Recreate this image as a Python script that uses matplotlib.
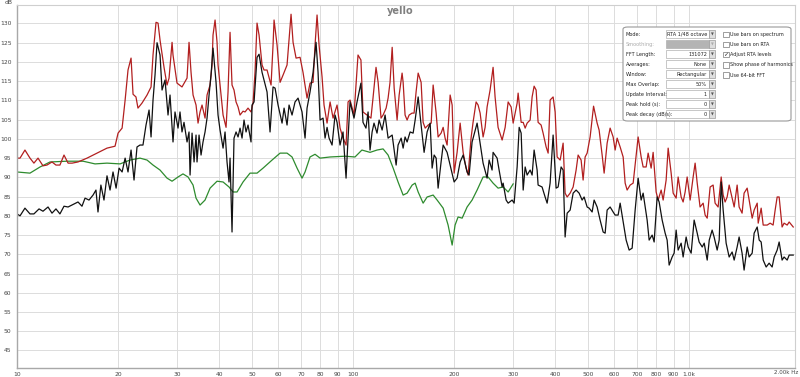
import matplotlib
matplotlib.use("Agg")
import matplotlib.pyplot as plt
from matplotlib.patches import FancyBboxPatch, Rectangle

# ---- data ----
black_f = [10.0, 10.21, 10.56, 10.93, 11.23, 11.63, 11.95, 12.37, 12.71, 13.06, 13.42, 13.8, 14.19,
           15.19, 15.61, 15.94, 16.38, 16.84, 17.18, 17.42, 17.77, 18.15, 18.53, 18.92, 19.31, 19.72,
           20.13, 20.55, 20.98, 21.4, 21.85, 22.3, 22.76, 23.23, 23.71, 24.21, 24.72, 25.06, 25.4,
           25.75, 26.11, 26.65, 27.02, 27.58, 28.15, 28.54, 29.13, 29.53, 30.15, 30.56, 30.98, 31.41,
           32.07, 32.51, 32.74, 33.19, 33.65, 34.11, 34.34, 34.82, 35.3, 35.78, 36.28, 36.78, 37.29,
           37.8, 38.32, 39.12, 39.66, 40.21, 41.05, 41.61, 42.18, 42.76, 43.06, 43.65, 44.25, 44.87,
           45.49, 46.12, 46.75, 47.39, 48.05, 48.71, 49.72, 50.06, 50.76, 51.81, 52.53, 53.62, 54.36,
           55.49, 56.64, 57.82, 58.62, 59.84, 61.5, 62.36, 63.64, 64.52, 65.86, 67.22, 68.63, 70.53,
           72.0, 72.99, 74.5, 76.06, 77.63, 78.71, 79.8, 81.45, 82.58, 83.72, 84.88, 86.64, 88.43,
           89.66, 91.5, 93.4, 95.36, 96.68, 98.0, 100.7, 102.8, 105.6, 107.1, 109.3, 110.9, 112.4,
           114.0, 115.5, 117.9, 119.6, 122.1, 124.6, 127.2, 130.8, 134.4, 136.2, 139.1, 141.0, 142.9,
           144.9, 147.9, 151.0, 153.1, 156.3, 159.5, 162.8, 166.2, 169.7, 172.0, 174.4, 176.8, 179.2,
           182.9, 185.5, 190.6, 194.6, 200.0, 204.1, 208.4, 212.7, 218.6, 221.6, 226.2, 234.1, 243.9,
           250.7, 254.2, 259.4, 261.2, 268.5, 272.2, 277.9, 279.8, 285.6, 289.6, 297.6, 301.7, 308.0,
           312.3, 316.6, 321.0, 325.4, 329.8, 336.7, 341.3, 346.0, 353.2, 355.6, 365.4, 373.1, 378.3,
           386.1, 394.1, 402.3, 407.9, 416.3, 422.1, 427.9, 433.9, 442.9, 452.1, 461.4, 471.0, 480.8,
           487.4, 497.6, 504.5, 514.9, 522.0, 532.9, 543.9, 555.3, 563.0, 570.7, 582.5, 594.7, 602.9,
           615.4, 623.9, 636.9, 650.1, 663.6, 677.4, 691.5, 705.8, 720.5, 730.4, 750.7, 761.1, 777.0,
           787.6, 804.0, 815.1, 832.1, 849.3, 861.0, 872.9, 891.0, 903.3, 915.8, 928.4, 947.7, 960.7,
           980.7, 994.3, 1015, 1036, 1058, 1072, 1095, 1110, 1133, 1149, 1172, 1188, 1213, 1230, 1247,
           1264, 1290, 1317, 1344, 1363, 1391, 1410, 1439, 1459, 1490, 1510, 1542, 1563, 1596, 1618,
           1640, 1663, 1697, 1732, 1768, 1793, 1830, 1855, 1893, 1919, 1960, 1987, 2043]
black_db = [80.5, 80.0, 82.0, 80.5, 80.5, 81.8, 81.2, 82.3, 80.7, 81.8, 80.5, 82.5, 82.3,
            83.6, 82.5, 84.6, 84.1, 85.4, 86.7, 81.0, 88.0, 84.1, 90.4, 86.7, 91.4, 87.2,
            92.4, 91.4, 95.0, 91.4, 97.1, 89.3, 97.9, 98.4, 98.4, 103.6, 107.5, 100.5, 110.1,
            116.6, 125.0, 121.8, 112.7, 115.3, 106.2, 111.4, 99.2, 107.0, 102.8, 107.0, 101.8, 104.3,
            99.2, 101.8, 90.6, 101.5, 94.0, 101.0, 94.0, 101.0, 95.8, 99.2, 101.8, 105.4, 111.4,
            116.6, 123.6, 114.7, 106.2, 102.3, 97.6, 101.8, 94.0, 88.8, 95.0, 75.8, 100.2, 101.8,
            100.5, 102.8, 100.2, 104.9, 101.8, 103.6, 99.2, 108.8, 109.6, 121.2, 122.0, 117.3, 115.3,
            112.2, 101.8, 113.5, 113.2, 108.8, 104.1, 108.0, 103.6, 108.8, 106.2, 109.6, 110.6, 107.0,
            100.2, 108.0, 112.2, 117.3, 125.1, 117.3, 104.9, 105.4, 100.2, 103.0, 100.2, 98.4, 106.2,
            104.3, 98.4, 101.8, 89.8, 100.2, 109.6, 105.4, 109.6, 114.5, 104.3, 102.8, 107.0, 97.1,
            101.8, 104.1, 101.5, 104.9, 102.3, 106.2, 100.2, 101.0, 93.2, 98.4, 100.2, 97.6, 100.5,
            99.2, 101.8, 101.5, 104.9, 110.9, 103.6, 96.5, 101.8, 104.1, 92.4, 95.8, 95.0, 87.2,
            94.0, 98.4, 96.5, 93.2, 88.8, 89.8, 94.0, 95.8, 91.4, 90.6, 99.2, 104.1, 93.7,
            89.8, 94.5, 91.9, 96.5, 95.0, 91.9, 87.5, 88.5, 84.1, 83.3, 84.1, 83.3, 92.7,
            103.0, 101.5, 86.7, 92.7, 90.6, 91.9, 90.6, 97.1, 91.9, 88.0, 87.5, 84.9, 83.3,
            88.5, 101.0, 87.2, 87.5, 92.7, 91.9, 74.5, 80.7, 81.5, 85.9, 86.7, 85.9, 84.1,
            84.9, 82.3, 82.0, 81.0, 84.1, 82.3, 78.9, 75.8, 75.5, 81.5, 82.3, 81.0, 80.2,
            80.2, 83.3, 78.4, 73.7, 71.1, 71.6, 81.5, 89.8, 84.1, 85.9, 78.9, 73.7, 75.0,
            73.2, 84.9, 83.6, 78.9, 75.5, 73.7, 67.2, 69.3, 70.3, 76.3, 71.1, 72.9, 69.3,
            74.5, 71.9, 70.3, 78.9, 75.5, 73.2, 71.9, 72.9, 68.5, 73.7, 76.3, 74.5, 71.1, 73.7, 88.8,
            81.5, 72.9, 69.3, 70.6, 68.5, 71.9, 74.5, 70.3, 65.9, 71.9, 69.3, 70.3, 75.5, 77.1, 73.7,
            73.2, 68.5, 66.7, 67.7, 66.7, 69.3, 71.1, 73.2, 68.5, 69.3, 68.5, 69.8, 69.8]

red_f = [10.0, 10.21, 10.56, 10.93, 11.23, 11.55, 11.95, 12.28, 12.71, 13.06, 13.42, 13.8, 14.19,
         14.59, 15.19, 16.16, 17.3, 18.53, 19.58, 19.99, 20.55, 20.98, 21.4, 21.85, 22.15, 22.6,
         22.91, 23.55, 24.38, 25.06, 25.4, 25.93, 26.29, 26.65, 27.39, 27.96, 28.35, 28.94, 29.13,
         29.94, 30.98, 32.07, 32.51, 32.96, 33.42, 34.11, 34.58, 35.06, 35.54, 36.28, 36.78, 37.55,
         38.06, 38.32, 38.86, 39.39, 39.66, 40.49, 41.05, 41.9, 42.47, 43.06, 43.65, 44.25, 44.87,
         45.49, 46.12, 47.07, 47.72, 48.71, 49.72, 50.41, 51.1, 51.81, 52.53, 53.62, 54.36, 55.49,
         57.03, 57.82, 58.22, 59.43, 60.67, 61.93, 63.64, 64.52, 65.41, 66.32, 67.7, 69.57, 71.0,
         72.99, 74.5, 76.06, 77.1, 78.17, 79.25, 80.9, 82.0, 83.72, 85.47, 87.24, 89.66, 91.53,
         93.42, 95.36, 96.68, 98.02, 100.7, 103.5, 105.6, 107.1, 110.1, 113.1, 114.7, 117.1, 118.8,
         121.2, 122.9, 125.5, 127.2, 128.9, 130.8, 132.6, 135.3, 137.2, 140.0, 141.0, 142.9, 144.9,
         146.9, 149.9, 152.0, 154.1, 156.3, 159.5, 161.7, 164.0, 167.4, 170.9, 173.2, 176.8, 179.2,
         182.9, 185.5, 188.0, 190.6, 194.6, 197.3, 200.0, 204.1, 208.4, 212.7, 217.1, 220.1, 224.6,
         227.7, 232.5, 235.7, 239.0, 243.9, 247.3, 250.7, 255.9, 261.2, 264.8, 270.3, 277.9, 283.7,
         289.6, 295.6, 299.7, 308.0, 310.1, 316.6, 321.0, 325.4, 329.8, 336.7, 341.3, 346.0, 350.8,
         355.6, 363.0, 368.0, 375.7, 380.9, 386.1, 394.1, 399.6, 405.1, 413.6, 422.1, 427.9, 433.9,
         442.9, 452.1, 461.4, 467.8, 477.5, 484.1, 490.8, 497.6, 507.9, 520.0, 532.9, 540.2, 551.5,
         559.1, 570.7, 582.5, 594.7, 602.9, 611.2, 623.9, 636.9, 645.7, 654.5, 668.2, 682.1, 696.2,
         705.8, 720.5, 730.4, 745.6, 755.9, 771.6, 782.2, 798.5, 809.5, 826.4, 837.8, 855.1, 867.0,
         885.0, 897.3, 915.8, 928.4, 947.7, 960.7, 974.0, 987.5, 1008, 1029, 1043, 1058, 1079, 1102,
         1117, 1133, 1156, 1180, 1196, 1221, 1247, 1264, 1281, 1299, 1317, 1344, 1363, 1391, 1410,
         1439, 1459, 1490, 1510, 1542, 1563, 1596, 1607, 1640, 1663, 1709, 1744, 1780, 1805, 1830,
         1855, 1893, 1919, 1960, 1987, 2043]
red_db = [95.0, 95.0, 97.1, 95.0, 93.7, 95.0, 93.0, 93.2, 94.0, 93.2, 93.2, 95.8, 93.7,
          93.7, 94.0, 95.0, 96.3, 97.6, 98.1, 101.5, 102.8, 110.1, 117.9, 121.0, 111.6, 110.9,
          108.0, 109.3, 111.4, 113.5, 121.8, 130.3, 130.1, 125.7, 118.6, 114.0, 115.8, 125.1, 121.8,
          114.5, 113.5, 115.8, 125.1, 117.3, 111.4, 108.8, 104.1, 107.0, 108.8, 105.4, 111.4, 114.0,
          119.2, 127.0, 130.9, 125.1, 119.2, 111.4, 106.2, 103.0, 112.2, 127.7, 114.0, 112.7, 109.6,
          108.3, 106.2, 107.2, 107.0, 108.0, 107.0, 109.3, 117.3, 130.1, 127.0, 119.2, 117.9, 117.9,
          114.0, 124.4, 130.9, 124.4, 114.7, 116.6, 119.2, 125.7, 132.4, 125.1, 121.0, 121.2, 117.3,
          110.6, 114.5, 114.7, 124.4, 132.2, 124.4, 116.1, 108.8, 104.1, 109.6, 105.4, 108.8, 102.8,
          100.2, 98.4, 109.6, 110.1, 106.2, 121.8, 120.5, 107.0, 106.2, 105.4, 110.6, 118.6, 114.7,
          105.4, 106.2, 108.0, 110.6, 114.7, 123.8, 113.2, 104.9, 111.4, 117.1, 114.7, 106.2, 104.9,
          106.2, 106.7, 106.7, 112.2, 117.1, 114.7, 104.3, 102.8, 103.6, 104.1, 114.0, 106.7, 100.5,
          101.5, 103.0, 100.2, 98.4, 111.4, 108.8, 91.1, 96.5, 104.1, 96.5, 92.4, 90.6, 100.2,
          104.3, 109.6, 108.8, 106.7, 100.5, 103.0, 108.3, 112.7, 118.6, 110.9, 103.0, 99.7, 103.0,
          109.6, 108.3, 104.1, 109.3, 111.9, 104.3, 104.3, 102.8, 104.1, 104.9, 110.9, 113.7, 112.7,
          104.3, 103.6, 101.5, 97.9, 96.3, 110.1, 110.9, 107.0, 95.3, 94.5, 98.9, 85.9, 84.9,
          85.9, 87.5, 91.9, 95.8, 94.5, 89.3, 95.3, 96.3, 100.5, 108.5, 104.1, 102.3, 95.8,
          91.1, 98.9, 102.8, 100.5, 97.1, 100.2, 97.9, 95.3, 88.5, 86.7, 88.0, 88.5, 95.8,
          100.5, 95.3, 92.7, 92.7, 96.3, 92.4, 96.5, 86.2, 84.1, 86.7, 84.1, 89.3, 97.6,
          91.1, 85.9, 84.6, 90.1, 84.9, 83.6, 86.2, 90.1, 84.1, 90.1, 93.7, 88.5, 82.3, 83.3,
          80.2, 79.4, 87.5, 88.0, 83.3, 82.3, 90.1, 85.4, 83.6, 84.9, 88.0, 84.6, 82.3, 88.0, 82.3,
          80.7, 85.9, 87.2, 84.1, 79.4, 81.5, 83.3, 78.1, 82.0, 77.6, 77.6, 78.1, 77.6, 81.5, 84.9,
          84.9, 77.1, 78.1, 77.6, 78.4, 77.1]

green_f = [10.0, 10.93, 11.71, 12.54, 14.09, 15.73, 17.07, 18.53, 20.27, 21.7, 23.23, 24.38, 25.4,
           26.65, 27.96, 28.94, 30.15, 31.19, 32.29, 33.42, 34.11, 35.06, 36.28, 37.55, 39.39, 41.05,
           42.76, 43.95, 45.18, 47.07, 49.38, 51.81, 53.99, 57.43, 60.67, 63.64, 65.86, 68.16, 70.53,
           72.0, 74.5, 77.1, 79.8, 85.5, 94.7, 101.4, 106.3, 112.4, 117.9, 122.9, 127.2, 131.7,
           136.2, 141.0, 144.9, 150.0, 153.1, 156.3, 161.7, 166.2, 173.2, 178.0, 185.5, 191.9, 197.3,
           201.3, 205.5, 211.3, 218.6, 226.2, 234.1, 243.9, 252.4, 261.2, 270.3, 279.8, 289.6, 299.7]
green_db = [91.4, 91.1, 92.7, 94.0, 94.2, 94.2, 93.5, 93.7, 93.5, 94.5, 95.0, 94.5, 93.2,
            91.9, 89.8, 89.0, 90.1, 90.9, 90.1, 88.0, 84.6, 82.8, 84.1, 87.2, 89.0, 88.8,
            87.5, 86.2, 86.2, 88.8, 91.1, 91.1, 92.4, 94.5, 96.3, 96.3, 95.3, 92.4, 89.8,
            91.4, 95.3, 96.0, 95.0, 95.3, 95.5, 95.3, 97.1, 96.5, 97.1, 97.4, 95.8, 92.4,
            88.8, 85.4, 85.9, 88.0, 88.5, 86.2, 83.3, 84.9, 85.4, 84.1, 82.0, 77.6, 72.4,
            77.6, 79.7, 79.4, 82.3, 84.1, 86.7, 90.1, 90.1, 88.5, 87.2, 87.5, 86.2, 88.3]

x_ticks = [10, 20, 30, 40, 50, 60, 70, 80, 90, 100, 200, 300, 400, 500, 600, 700, 800, 900, 1000]
x_labels = ["10", "20", "30", "40", "50", "60", "70", "80", "90", "100", "200", "300", "400",
            "500", "600", "700", "800", "900", "1.0k"]
y_ticks = list(range(45, 131, 5))

panel_labels = ["Mode:", "Smoothing:", "FFT Length:", "Averages:", "Window:", "Max Overlap:",
                "Update Interval:", "Peak hold (s):", "Peak decay (dB/s):"]
panel_values = ["RTA 1/48 octave", "", "131072", "None", "Rectangular", "50%", "1", "0", "0"]
check_labels = ["Use bars on spectrum", "Use bars on RTA", "Adjust RTA levels",
                "Show phase of harmonics", "Use 64-bit FFT"]
check_state = [False, False, True, False, False]

# ---- figure ----
W, H = 800, 377
fig = plt.figure(figsize=(W / 100, H / 100), dpi=100)
fig.patch.set_facecolor("white")


def fx(x):
    return x / W


def fy(y):
    return 1 - y / H


ax = fig.add_axes([fx(17), fy(368), fx(795) - fx(17), fy(5) - fy(368)])
ax.set_xscale("log")
ax.set_xlim(10, 2068)
ax.set_ylim(40.45, 134.8)

ax.plot(green_f, green_db, color="#2e8b2e", lw=0.9)
ax.plot(red_f, red_db, color="#b21f1f", lw=0.9)
ax.plot(black_f, black_db, color="#111111", lw=0.9)

ax.set_xticks(x_ticks)
ax.set_xticklabels(x_labels)
ax.xaxis.set_minor_locator(matplotlib.ticker.NullLocator())
ax.set_yticks(y_ticks)
ax.tick_params(axis="both", length=0, labelsize=4.3, labelcolor="#444444")
ax.tick_params(axis="x", pad=3)
ax.tick_params(axis="y", pad=4)
ax.grid(True, color="#dcdcdc", lw=0.7)
ax.set_axisbelow(True)
for side in ["left", "bottom"]:
    ax.spines[side].set_color("#a8a8a8")
    ax.spines[side].set_linewidth(1.0)
for side in ["top", "right"]:
    ax.spines[side].set_color("#cfcfcf")
    ax.spines[side].set_linewidth(0.8)

fig.text(fx(798), fy(373), "2.00k Hz", fontsize=4.0, color="#444444", ha="right", va="center")
fig.text(fx(9), fy(3), "dB", fontsize=4.3, color="#444444", ha="center", va="center")
fig.text(fx(400), fy(11), "yello", fontsize=7, color="#808080", ha="center", va="center",
         fontweight="semibold")

# ---- settings panel ----
fig.add_artist(FancyBboxPatch((fx(623), fy(121)), fx(791) - fx(623), fy(27) - fy(121),
                              boxstyle="round,pad=0,rounding_size=0.006",
                              transform=fig.transFigure, facecolor="white",
                              edgecolor="#9a9a9a", lw=0.8))
for i, (lab, val) in enumerate(zip(panel_labels, panel_values)):
    yc = 34.3 + i * 10
    col = "#aaaaaa" if i == 1 else "#222222"
    fig.text(fx(626), fy(yc), lab, fontsize=3.6, color=col, ha="left", va="center")
    box_fc = "#b4b4b4" if i == 1 else "white"
    fig.add_artist(Rectangle((fx(666), fy(yc + 4)), fx(709) - fx(666), fy(yc - 4) - fy(yc + 4),
                             transform=fig.transFigure, facecolor=box_fc,
                             edgecolor="#b0b0b0", lw=0.5))
    fig.add_artist(Rectangle((fx(709), fy(yc + 4)), fx(715) - fx(709), fy(yc - 4) - fy(yc + 4),
                             transform=fig.transFigure, facecolor="#dedede",
                             edgecolor="#9a9a9a", lw=0.5))
    fig.text(fx(712), fy(yc), "\u25bc", fontsize=2.6, color="#555555" if i != 1 else "#aaaaaa",
             ha="center", va="center")
    if val:
        fig.text(fx(707), fy(yc), val, fontsize=3.6, color="#222222", ha="right", va="center")

for i, (lab, on) in enumerate(zip(check_labels, check_state)):
    yc = 34.3 + i * 10.2
    fig.add_artist(Rectangle((fx(723), fy(yc + 2.7)), fx(728.5) - fx(723), fy(yc - 2.7) - fy(yc + 2.7),
                             transform=fig.transFigure, facecolor="white",
                             edgecolor="#777777", lw=0.5))
    if on:
        fig.text(fx(725.8), fy(yc), "\u2713", fontsize=4.5, color="#333333", ha="center", va="center")
    fig.text(fx(730.5), fy(yc), lab, fontsize=3.5, color="#222222", ha="left", va="center")

fig.savefig("out.png", dpi=100, facecolor="white")
